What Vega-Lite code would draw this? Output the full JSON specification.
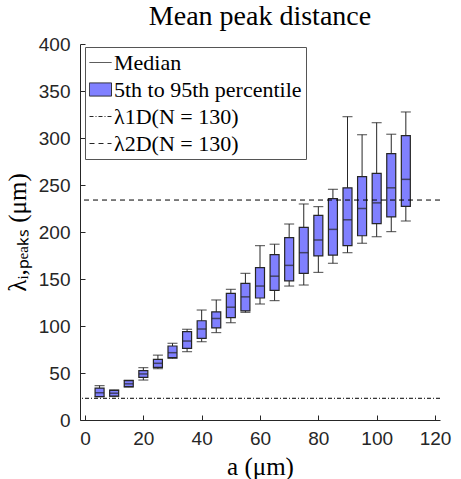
{
  "$schema": "https://vega.github.io/schema/vega-lite/v6.json",
  "width": 360,
  "height": 376,
  "autosize": {"type": "none"},
  "padding": {"left": 80, "top": 44, "right": 21, "bottom": 59},
  "background": "white",
  "title": {"text": "Mean peak distance", "font": "Liberation Serif", "fontSize": 28, "fontWeight": "normal", "color": "black", "anchor": "middle", "offset": 4},
  "config": {
    "view": {"stroke": null},
    "axis": {"grid": false, "domainColor": "#262626", "tickColor": "#262626", "labelColor": "#262626", "labelFont": "Liberation Sans", "labelFontSize": 19, "titleFont": "Liberation Serif", "titleFontSize": 25, "titleFontWeight": "normal", "titleColor": "black", "tickSize": -5, "domainWidth": 1, "tickWidth": 1},
    "legend": {
      "title": null, "orient": "none", "legendX": 5, "legendY": 3,
      "fillColor": "white", "strokeColor": "#555555", "padding": 4,
      "labelFont": "Liberation Serif", "labelFontSize": 22, "labelColor": "black", "labelOffset": 2, "labelLimit": 400,
      "symbolSize": 484, "symbolStrokeWidth": 1, "symbolOpacity": 1, "rowPadding": 4
    }
  },
  "datasets": {
    "boxes": [
      {"a": 5, "lo": 24.5, "q1": 25, "med": 29, "q3": 34, "hi": 36.5},
      {"a": 10, "lo": 25, "q1": 25.5, "med": 28.5, "q3": 31.5, "hi": 32},
      {"a": 15, "lo": 35, "q1": 35.5, "med": 38.5, "q3": 41.8, "hi": 42.3},
      {"a": 20, "lo": 42.5, "q1": 45.4, "med": 49, "q3": 52.5, "hi": 55.7},
      {"a": 25, "lo": 54.6, "q1": 56, "med": 60.3, "q3": 64.5, "hi": 69},
      {"a": 30, "lo": 65.5, "q1": 66.3, "med": 71.6, "q3": 78.7, "hi": 81.6},
      {"a": 35, "lo": 72.7, "q1": 76.2, "med": 84, "q3": 94, "hi": 96.5},
      {"a": 40, "lo": 83.3, "q1": 86.9, "med": 96.8, "q3": 105.6, "hi": 117},
      {"a": 45, "lo": 93, "q1": 98, "med": 108, "q3": 115, "hi": 127.7},
      {"a": 50, "lo": 103.5, "q1": 109, "med": 120, "q3": 134.8, "hi": 139},
      {"a": 55, "lo": 114.5, "q1": 116, "med": 131, "q3": 145.4, "hi": 156},
      {"a": 60, "lo": 123.4, "q1": 129.8, "med": 142.5, "q3": 162, "hi": 185.5},
      {"a": 65, "lo": 127, "q1": 138, "med": 153, "q3": 176, "hi": 187},
      {"a": 70, "lo": 142.5, "q1": 148, "med": 164.5, "q3": 194, "hi": 208.5},
      {"a": 75, "lo": 143.6, "q1": 156, "med": 178, "q3": 205, "hi": 229.8},
      {"a": 80, "lo": 157, "q1": 174.5, "med": 191.5, "q3": 217.7, "hi": 227},
      {"a": 85, "lo": 166.7, "q1": 175.5, "med": 202.8, "q3": 235.5, "hi": 245.4},
      {"a": 90, "lo": 178, "q1": 185.5, "med": 213, "q3": 247, "hi": 322.7},
      {"a": 95, "lo": 188, "q1": 196, "med": 225, "q3": 259, "hi": 303.5},
      {"a": 100, "lo": 195, "q1": 209, "med": 231, "q3": 262.4, "hi": 316.3},
      {"a": 105, "lo": 200.4, "q1": 216, "med": 247, "q3": 283.3, "hi": 304},
      {"a": 110, "lo": 211.7, "q1": 227.3, "med": 256, "q3": 302.5, "hi": 327.7}
    ],
    "refs": [
      {"series": "λ1D(N = 130)", "value": 23.1},
      {"series": "λ2D(N = 130)", "value": 234}
    ]
  },
  "layer": [
    {
      "data": {"name": "boxes"},
      "mark": {"type": "rule", "color": "#262626", "strokeWidth": 1},
      "encoding": {
        "x": {"field": "a", "type": "quantitative", "scale": {"domain": [0, 120], "nice": false}, "axis": {"values": [0, 20, 40, 60, 80, 100, 120], "title": "a (μm)", "titleFont": "Liberation Serif", "titleFontSize": 25, "labelPadding": 14, "titlePadding": 6}},
        "y": {"field": "lo", "type": "quantitative", "scale": {"domain": [0, 400], "nice": false}, "axis": {"values": [0, 50, 100, 150, 200, 250, 300, 350, 400], "title": "λᵢ,ₚₑₐₖₛ (μm)", "titleFont": "Liberation Serif", "titleFontSize": 25, "labelPadding": 15, "titlePadding": 8}},
        "y2": {"field": "hi"}
      }
    },
    {
      "data": {"name": "boxes"},
      "mark": {"type": "bar", "size": 9, "fill": "#8080ff", "stroke": "#262626", "strokeWidth": 1.2},
      "encoding": {
        "x": {"field": "a", "type": "quantitative"},
        "y": {"field": "q1", "type": "quantitative"},
        "y2": {"field": "q3"}
      }
    },
    {
      "data": {"name": "boxes"},
      "mark": {"type": "tick", "orient": "horizontal", "size": 9, "thickness": 1.5, "color": "#262626"},
      "encoding": {
        "x": {"field": "a", "type": "quantitative"},
        "y": {"field": "med", "type": "quantitative"}
      }
    },
    {
      "data": {"name": "boxes"},
      "mark": {"type": "tick", "orient": "horizontal", "size": 10, "thickness": 1.2, "color": "#262626"},
      "encoding": {
        "x": {"field": "a", "type": "quantitative"},
        "y": {"field": "hi", "type": "quantitative"}
      }
    },
    {
      "data": {"name": "boxes"},
      "mark": {"type": "tick", "orient": "horizontal", "size": 10, "thickness": 1.2, "color": "#262626"},
      "encoding": {
        "x": {"field": "a", "type": "quantitative"},
        "y": {"field": "lo", "type": "quantitative"}
      }
    },
    {
      "data": {"name": "refs"},
      "mark": {"type": "rule", "color": "black", "strokeWidth": 1},
      "encoding": {
        "y": {"field": "value", "type": "quantitative"},
        "strokeDash": {
          "field": "series", "type": "nominal",
          "scale": {"domain": ["Median", "5th to 95th percentile", "λ1D(N = 130)", "λ2D(N = 130)"], "range": [[1, 0], [1, 0], [4, 2, 1, 2], [5, 4]]}
        }
      }
    },
    {
      "data": {"name": "refs"},
      "transform": [{"filter": "false"}],
      "mark": {"type": "point", "strokeWidth": 1},
      "encoding": {
        "y": {"field": "value", "type": "quantitative"},
        "shape": {
          "field": "series", "type": "nominal",
          "scale": {"domain": ["Median", "5th to 95th percentile", "λ1D(N = 130)", "λ2D(N = 130)"], "range": ["stroke", "M-1,-0.6H1V0.6H-1Z", "stroke", "stroke"]}
        },
        "fill": {
          "field": "series", "type": "nominal",
          "scale": {"domain": ["Median", "5th to 95th percentile", "λ1D(N = 130)", "λ2D(N = 130)"], "range": ["transparent", "#8080ff", "transparent", "transparent"]}
        },
        "stroke": {
          "field": "series", "type": "nominal",
          "scale": {"domain": ["Median", "5th to 95th percentile", "λ1D(N = 130)", "λ2D(N = 130)"], "range": ["#262626", "#262626", "#262626", "#262626"]}
        },
        "strokeDash": {
          "field": "series", "type": "nominal"
        }
      }
    }
  ]
}
